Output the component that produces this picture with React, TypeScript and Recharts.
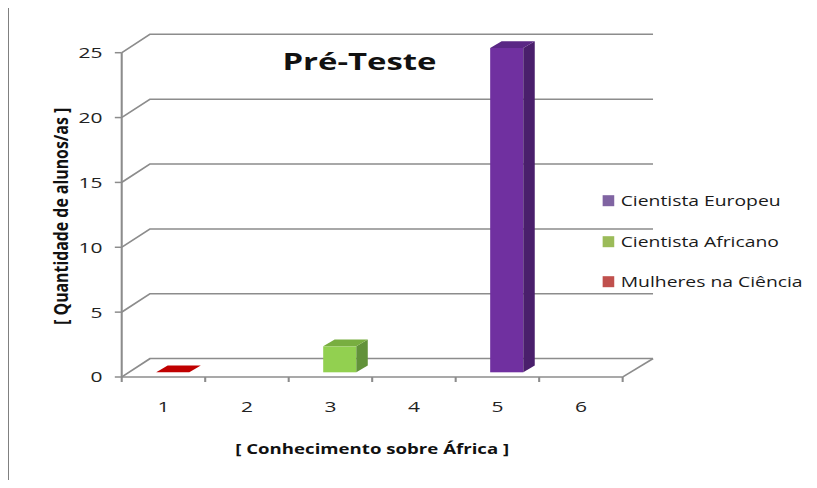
import { BarChart, Bar, XAxis, YAxis, CartesianGrid, Label } from 'recharts'

// the source picture is stretched sideways, so the chart is laid out narrow and scaled
const STRETCH = 1.38
const W = 592
const H = 488

const categories = ['1', '2', '3', '4', '5', '6']
const cientistaEuropeu = [null, null, null, null, 25, null]
const cientistaAfricano = [null, null, 2, null, null, null]
const mulheresNaCiencia = [0, null, null, null, null, null]
const yTicks = [0, 5, 10, 15, 20, 25]

const seriesKeys = ['europeu', 'africano', 'mulheres']
const seriesNames = ['Cientista Europeu', 'Cientista Africano', 'Mulheres na Ciência']

const data = categories.map((c, i) => ({
  cat: c,
  europeu: cientistaEuropeu[i],
  africano: cientistaAfricano[i],
  mulheres: mulheresNaCiencia[i],
}))

const palette: Record<string, { legend: string; front: string; side: string; top: string }> = {
  europeu: { legend: '#8064A2', front: '#7030A0', side: '#4A1F6C', top: '#5A2785' },
  africano: { legend: '#9BBB59', front: '#92D050', side: '#62923A', top: '#78AE40' },
  mulheres: { legend: '#C0504D', front: '#C00000', side: '#900000', top: '#C00000' },
}

const FONT = '"Open Sans", "Noto Sans", sans-serif'
const GRID = '#8c8c8c'
const BACK_DX = 20.5
const BACK_DY = -18.4
const BACK_DX_RIGHT = 22

const BOX_DX = 8.3
const BOX_DY = -6.8
const BOX_SHIFT_X = 7
const BOX_SHIFT_Y = -4.7

function makeBox(key: string) {
  return (props: any) => {
    const { x, y, width, height, payload } = props
    if (!payload || payload[key] == null || !isFinite(y)) return <g />
    const c = palette[key]
    const x0 = x + BOX_SHIFT_X
    const y0 = y + BOX_SHIFT_Y
    const w = width
    const h = height
    return (
      <g>
        {h > 0 && <rect x={x0} y={y0} width={w} height={h} fill={c.front} />}
        {h > 0 && (
          <polygon
            points={`${x0 + w},${y0} ${x0 + w + BOX_DX},${y0 + BOX_DY} ${x0 + w + BOX_DX},${y0 + h + BOX_DY} ${x0 + w},${y0 + h}`}
            fill={c.side}
          />
        )}
        <polygon
          points={`${x0},${y0} ${x0 + BOX_DX},${y0 + BOX_DY} ${x0 + w + BOX_DX},${y0 + BOX_DY} ${x0 + w},${y0}`}
          fill={c.top}
        />
      </g>
    )
  }
}

const gridLine = (p: any) => {
  const { x1, x2, y1 } = p
  return (
    <path
      key={`grid-${y1}`}
      d={`M${x1},${y1} L${x1 + BACK_DX},${y1 + BACK_DY} L${x2 + BACK_DX_RIGHT},${y1 + BACK_DY}`}
      stroke={GRID}
      strokeWidth={1.5}
      fill="none"
    />
  )
}

const XTick = (props: any) => {
  const { x, y, payload, index, visibleTicksCount } = props
  const half = payload?.offset || 30.25
  const last = index === visibleTicksCount - 1
  return (
    <g>
      <line x1={x - half} x2={x - half} y1={y} y2={y + 5} stroke={GRID} strokeWidth={1.5} />
      {last && (
        <>
          <line x1={x + half} x2={x + half} y1={y} y2={y + 5} stroke={GRID} strokeWidth={1.5} />
          <line x1={x + half} x2={x + half + BACK_DX_RIGHT} y1={y} y2={y + BACK_DY} stroke={GRID} strokeWidth={1.5} />
        </>
      )}
      <text x={x} y={y + 35.5} textAnchor="middle" fill="#222" fontSize={15.2} fontFamily={FONT}>
        {payload.value}
      </text>
    </g>
  )
}

const XTitle = (props: any) => {
  const vb = props.viewBox
  return (
    <text
      x={vb.x + vb.width / 2}
      y={vb.y + 77}
      textAnchor="middle"
      fontFamily={FONT}
      fontWeight="bold"
      fontSize={14.2}
      fill="#111"
      textLength={198.5}
      lengthAdjust="spacingAndGlyphs"
    >
      [ Conhecimento sobre África ]
    </text>
  )
}

const YTitle = (props: any) => {
  const vb = props.viewBox
  const cy = vb.y + vb.height / 2 + 1.5
  return (
    <text
      transform={`translate(${vb.x + 49}, ${cy}) rotate(-90)`}
      textAnchor="middle"
      fontFamily={FONT}
      fontWeight="bold"
      fontSize={14}
      fill="#111"
      textLength={217}
      lengthAdjust="spacingAndGlyphs"
    >
      [ Quantidade de alunos/as ]
    </text>
  )
}

const legendRows = [200.7, 241.7, 281.7]

export default function App() {
  return (
    <div style={{ position: 'relative', width: 817, height: 488, margin: -8, overflow: 'hidden', background: '#fff' }}>
      <div style={{ position: 'absolute', left: 7, top: 3.5, right: 0, height: 1.5, background: '#808080' }} />
      <div style={{ position: 'absolute', left: 7, top: 3.5, bottom: 0, width: 2, background: '#808080' }} />
      <div
        style={{
          position: 'absolute',
          left: 0,
          top: 0,
          width: W,
          height: H,
          transform: `scaleX(${STRETCH})`,
          transformOrigin: '0 0',
        }}
      >
        <BarChart width={W} height={H} data={data} margin={{ top: 52.7, right: 140.8, bottom: 81, left: 0 }}>
          <CartesianGrid vertical={false} horizontal={gridLine} />
          <XAxis
            dataKey="cat"
            interval={0}
            height={30}
            tickLine={false}
            tickSize={0}
            tickMargin={0}
            axisLine={{ stroke: GRID, strokeWidth: 1.5 }}
            tick={<XTick />}
          >
            <Label content={<XTitle />} />
          </XAxis>
          <YAxis
            width={88.2}
            domain={[0, 25]}
            ticks={yTicks}
            tickSize={5}
            tickMargin={9}
            axisLine={{ stroke: GRID, strokeWidth: 1.5 }}
            tickLine={{ stroke: GRID, strokeWidth: 1.5 }}
            tick={{ fill: '#222', fontSize: 15.2, fontFamily: FONT }}
          >
            <Label content={<YTitle />} />
          </YAxis>
          {seriesKeys.map((k, i) => (
            <Bar
              key={k}
              dataKey={k}
              name={seriesNames[i]}
              stackId="a"
              barSize={24}
              fill={palette[k].legend}
              shape={makeBox(k)}
              isAnimationActive={false}
            />
          ))}
          <text
            x={260.5}
            y={70}
            textAnchor="middle"
            fontFamily={FONT}
            fontWeight="bold"
            fontSize={24}
            fill="#111"
            textLength={111.6}
            lengthAdjust="spacingAndGlyphs"
          >
            Pré-Teste
          </text>
          <g>
            {seriesKeys.map((k, i) => (
              <g key={k}>
                <rect x={436.7} y={legendRows[i] - 5.5} width={8.4} height={11} fill={palette[k].legend} />
                <text x={449.8} y={legendRows[i] + 5} fontFamily={FONT} fontSize={14} fill="#1a1a1a">
                  {seriesNames[i]}
                </text>
              </g>
            ))}
          </g>
        </BarChart>
      </div>
    </div>
  )
}
